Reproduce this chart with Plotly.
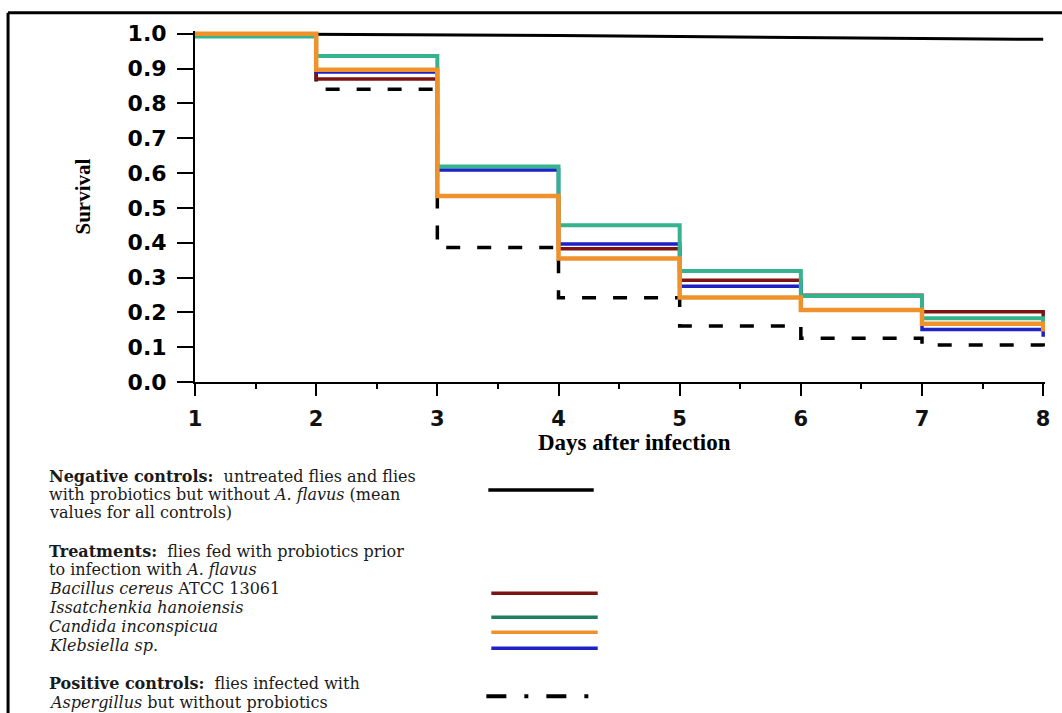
import plotly.graph_objects as go

# ---------------- data ----------------
days = [1, 2, 3, 4, 5, 6, 7, 8]
negative_controls = [1.0, 0.999, 0.997, 0.995, 0.992, 0.990, 0.987, 0.984]
bacillus_cereus = [1.0, 0.870, 0.534, 0.383, 0.292, 0.249, 0.202, 0.170]
issatchenkia_hanoiensis = [0.992, 0.936, 0.619, 0.450, 0.319, 0.247, 0.183, 0.160]
candida_inconspicua = [1.0, 0.897, 0.534, 0.355, 0.243, 0.207, 0.167, 0.145]
klebsiella_sp = [1.0, 0.890, 0.609, 0.396, 0.275, 0.207, 0.151, 0.130]
positive_controls = [1.0, 0.841, 0.386, 0.242, 0.161, 0.126, 0.106, 0.095]

x_ticks = [1, 2, 3, 4, 5, 6, 7, 8]
y_ticks = [0.0, 0.1, 0.2, 0.3, 0.4, 0.5, 0.6, 0.7, 0.8, 0.9, 1.0]
y_ticktext = ["0.0", "0.1", "0.2", "0.3", "0.4", "0.5", "0.6", "0.7", "0.8", "0.9", "1.0"]

# ---------------- layout geometry ----------------
W, H = 1062, 713
XR = [1, 8.015]
YR = [0, 1.008]
L_M, B_M = 195, 331
PX_PER_DAY = 853 / 7
PX_PER_UNIT = 348
PW = (XR[1] - XR[0]) * PX_PER_DAY
PH = (YR[1] - YR[0]) * PX_PER_UNIT
R_M = W - L_M - PW
T_M = H - B_M - PH


def xp(px):
    return (px - L_M) / PW


def yp(py):
    return (H - B_M - py) / PH


RED = "#7d1414"
GREEN = "#34b38e"
GREEN_LEG = "#1c7f5e"
ORANGE = "#f0922c"
BLUE = "#1e22c4"

fig = go.Figure()

fig.add_trace(go.Scatter(x=days, y=negative_controls, mode="lines",
                         line=dict(color="black", width=3), name="Negative controls"))
fig.add_trace(go.Scatter(x=days, y=positive_controls, mode="lines", line_shape="hv",
                         line=dict(color="black", width=3.5, dash="14px,17px"),
                         name="Positive controls"))
fig.add_trace(go.Scatter(x=days, y=bacillus_cereus, mode="lines", line_shape="hv",
                         line=dict(color=RED, width=3.5), name="Bacillus cereus ATCC 13061"))
fig.add_trace(go.Scatter(x=days, y=klebsiella_sp, mode="lines", line_shape="hv",
                         line=dict(color=BLUE, width=3.5), name="Klebsiella sp."))
fig.add_trace(go.Scatter(x=days, y=issatchenkia_hanoiensis, mode="lines", line_shape="hv",
                         line=dict(color=GREEN, width=4), name="Issatchenkia hanoiensis"))
fig.add_trace(go.Scatter(x=days, y=candida_inconspicua, mode="lines", line_shape="hv",
                         line=dict(color=ORANGE, width=4.5), name="Candida inconspicua"))

shapes = []
# outer frame (top and left)
shapes.append(dict(type="line", xref="paper", yref="paper", x0=xp(7), x1=xp(1070),
                   y0=yp(13), y1=yp(13), line=dict(color="black", width=3)))
shapes.append(dict(type="line", xref="paper", yref="paper", x0=xp(7), x1=xp(7),
                   y0=yp(13), y1=yp(720), line=dict(color="black", width=3)))

# legend sample lines
leg_lines = [
    (490, "black", 3.5, "solid", 490, 596),
    (593, RED, 3.5, "solid", 493, 600),
    (617, GREEN_LEG, 3.5, "solid", 493, 600),
    (632, ORANGE, 3.5, "solid", 493, 600),
    (648, BLUE, 3.5, "solid", 493, 600),
    (696, "black", 4, "20px,18px,4px,18px", 488, 600),
]
for py, col, w, dash, x0, x1 in leg_lines:
    shapes.append(dict(type="line", xref="paper", yref="paper", x0=xp(x0), x1=xp(x1),
                       y0=yp(py), y1=yp(py), line=dict(color=col, width=w, dash=dash)))

SERIF = "DejaVu Serif, Liberation Serif, serif"
LEG_SIZE = 16
leg_text = [
    (476, "<b>Negative controls:</b>&nbsp; untreated flies and flies"),
    (494, "with probiotics but without <i>A. flavus</i> (mean"),
    (512, "values for all controls)"),
    (551, "<b>Treatments:</b>&nbsp; flies fed with probiotics prior"),
    (569, "to infection with <i>A. flavus</i>"),
    (588, "<i>Bacillus cereus</i> ATCC 13061"),
    (607, "<i>Issatchenkia hanoiensis</i>"),
    (626, "<i>Candida inconspicua</i>"),
    (645, "<i>Klebsiella sp.</i>"),
    (683, "<b>Positive controls:</b>&nbsp; flies infected with"),
    (702, "<i>Aspergillus</i> but without probiotics"),
]
annotations = []
for py, txt in leg_text:
    annotations.append(dict(xref="paper", yref="paper", x=xp(46), y=yp(py),
                            xanchor="left", yanchor="middle", showarrow=False, text=txt,
                            font=dict(family=SERIF, size=LEG_SIZE, color="#1a1a1a")))

# axis titles
TSERIF = "Liberation Serif, Times New Roman, serif"
annotations.append(dict(xref="paper", yref="paper", x=xp(82), y=yp(197), xanchor="center",
                        yanchor="middle", showarrow=False, text="<b>Survival</b>", textangle=-90,
                        font=dict(family=TSERIF, size=21, color="black")))
annotations.append(dict(xref="paper", yref="paper", x=xp(637), y=yp(442), xanchor="center",
                        yanchor="middle", showarrow=False, text="<b>Days after infection</b>",
                        font=dict(family=TSERIF, size=23, color="black")))

fig.update_layout(
    width=W, height=H,
    margin=dict(l=L_M, r=R_M, t=T_M, b=B_M, pad=0),
    paper_bgcolor="white", plot_bgcolor="white",
    showlegend=False,
    shapes=shapes,
    annotations=annotations,
    xaxis=dict(range=XR, tickmode="array", tickvals=x_ticks, ticktext=[str(v) for v in x_ticks],
               showgrid=False, zeroline=False, showline=True, linecolor="black", linewidth=2,
               ticks="outside", ticklen=12, tickwidth=2, tickcolor="black",
               ticklabelstandoff=5,
               minor=dict(tickmode="array", tickvals=[1.5, 2.5, 3.5, 4.5, 5.5, 6.5, 7.5],
                          ticks="outside", ticklen=5, tickwidth=2, tickcolor="black"),
               tickfont=dict(family="DejaVu Sans", size=21, color="#111111", weight="bold"),
               fixedrange=True),
    yaxis=dict(range=YR, tickmode="array", tickvals=y_ticks, ticktext=y_ticktext,
               showgrid=False, zeroline=False, showline=True, linecolor="black", linewidth=2,
               ticks="outside", ticklen=16, tickwidth=2, tickcolor="black",
               ticklabelstandoff=6,
               tickfont=dict(family="DejaVu Sans", size=22, color="black", weight="bold"),
               fixedrange=True),
)

fig.write_html("out.html", config={"displayModeBar": False},
               post_script="document.body.style.margin='0';")
